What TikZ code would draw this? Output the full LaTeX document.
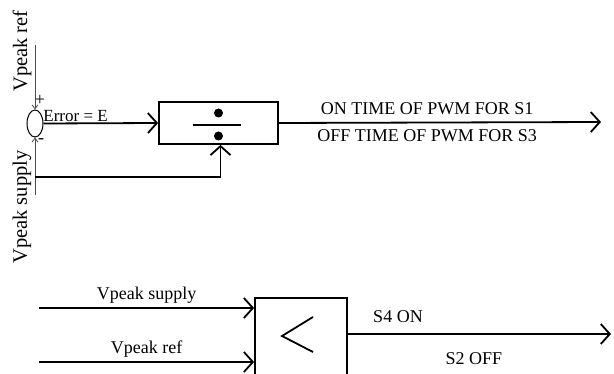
\documentclass[tikz,border=0pt]{standalone}
\usepackage{fontspec}
\setmainfont{Liberation Serif}
\usetikzlibrary{arrows.meta, shapes.geometric, positioning}
\tikzstyle{block}   = [rectangle, draw=black, line width=1.8pt, inner sep=0pt]
\tikzstyle{sumjunc} = [ellipse, draw=black, line width=1pt, minimum width=16pt, minimum height=27pt, inner sep=0pt]
\tikzstyle{sig}     = [line width=1.8pt, -{Straight Barb[length=9pt,width=20pt,line width=1.8pt]}]
\tikzstyle{feed}    = [line width=0.8pt, black!70, -{Straight Barb[length=4pt,width=6pt,line width=0.8pt]}]
\tikzstyle{lbl}     = [font=\fontsize{18}{20}\selectfont, inner sep=1pt]

\begin{document}
\begin{tikzpicture}[x=1pt, y=-1pt]
  \clip (0,0) rectangle (614,374);

  % error stage
  \node (sum)    [sumjunc] at (35,123.5) {};
  \node (divbox) [block, minimum width=119pt, minimum height=42pt] at (218.5,123) {};
  \coordinate (reftop) at (35,45);
  \coordinate (supbot) at (35,195);
  \coordinate (fbstart) at (35,177);
  \coordinate (outtop) at (601,122);

  \draw[feed] (reftop) -- (sum.north);
  \draw[feed] (supbot) -- (sum.south);
  \node[lbl, rotate=90, font=\fontsize{20.5}{22}\selectfont] at (22,51) {Vpeak ref};
  \node[lbl, rotate=90, font=\fontsize{20.5}{22}\selectfont] at (22,207) {Vpeak supply};
  \node[font=\fontsize{18}{20}\selectfont, inner sep=0pt] at (40,100) {+};
  \node[font=\fontsize{18}{20}\selectfont, inner sep=0pt] at (41,141) {-};

  \draw[sig] (sum.east) -- node[lbl, above, pos=0.28, font=\fontsize{17}{19}\selectfont] {Error = E} (divbox.west);
  \draw[sig] (fbstart) -| ([xshift=2pt]divbox.south);

  % divide symbol
  \fill ([yshift=-13pt]divbox.center) circle (4.5pt);
  \fill ([yshift=10pt]divbox.center) circle (4.5pt);
  \draw[line width=1.8pt] ([xshift=-26pt,yshift=-2pt]divbox.center) -- ([xshift=22pt,yshift=-2pt]divbox.center);

  \draw[sig] (divbox.east) -- node[lbl, above=6pt, pos=0.46] {ON TIME OF PWM FOR S1}
                              node[lbl, below=5pt, pos=0.46] {OFF TIME OF PWM FOR S3} (outtop);

  % comparator stage
  \node (cmpbox) [block, anchor=north, minimum width=92pt, minimum height=110pt] at (301,297) {};
  \coordinate (insup) at (39,308);
  \coordinate (inref) at (39,362);
  \coordinate (outbot) at (611,334);

  \draw[sig] (insup) -- node[lbl, above=3pt, pos=0.5] {Vpeak supply} (insup -| cmpbox.west);
  \draw[sig] (inref) -- node[lbl, above=3pt, pos=0.5] {Vpeak ref} (inref -| cmpbox.west);
  \draw[line width=1.8pt] (313,317) -- (282,336) -- (313,352);

  \draw[sig] (cmpbox.east |- outbot) -- (outbot);
  \node[lbl] at (398,317) {S4 ON};
  \node[lbl] at (474,359) {S2 OFF};
\end{tikzpicture}
\end{document}
